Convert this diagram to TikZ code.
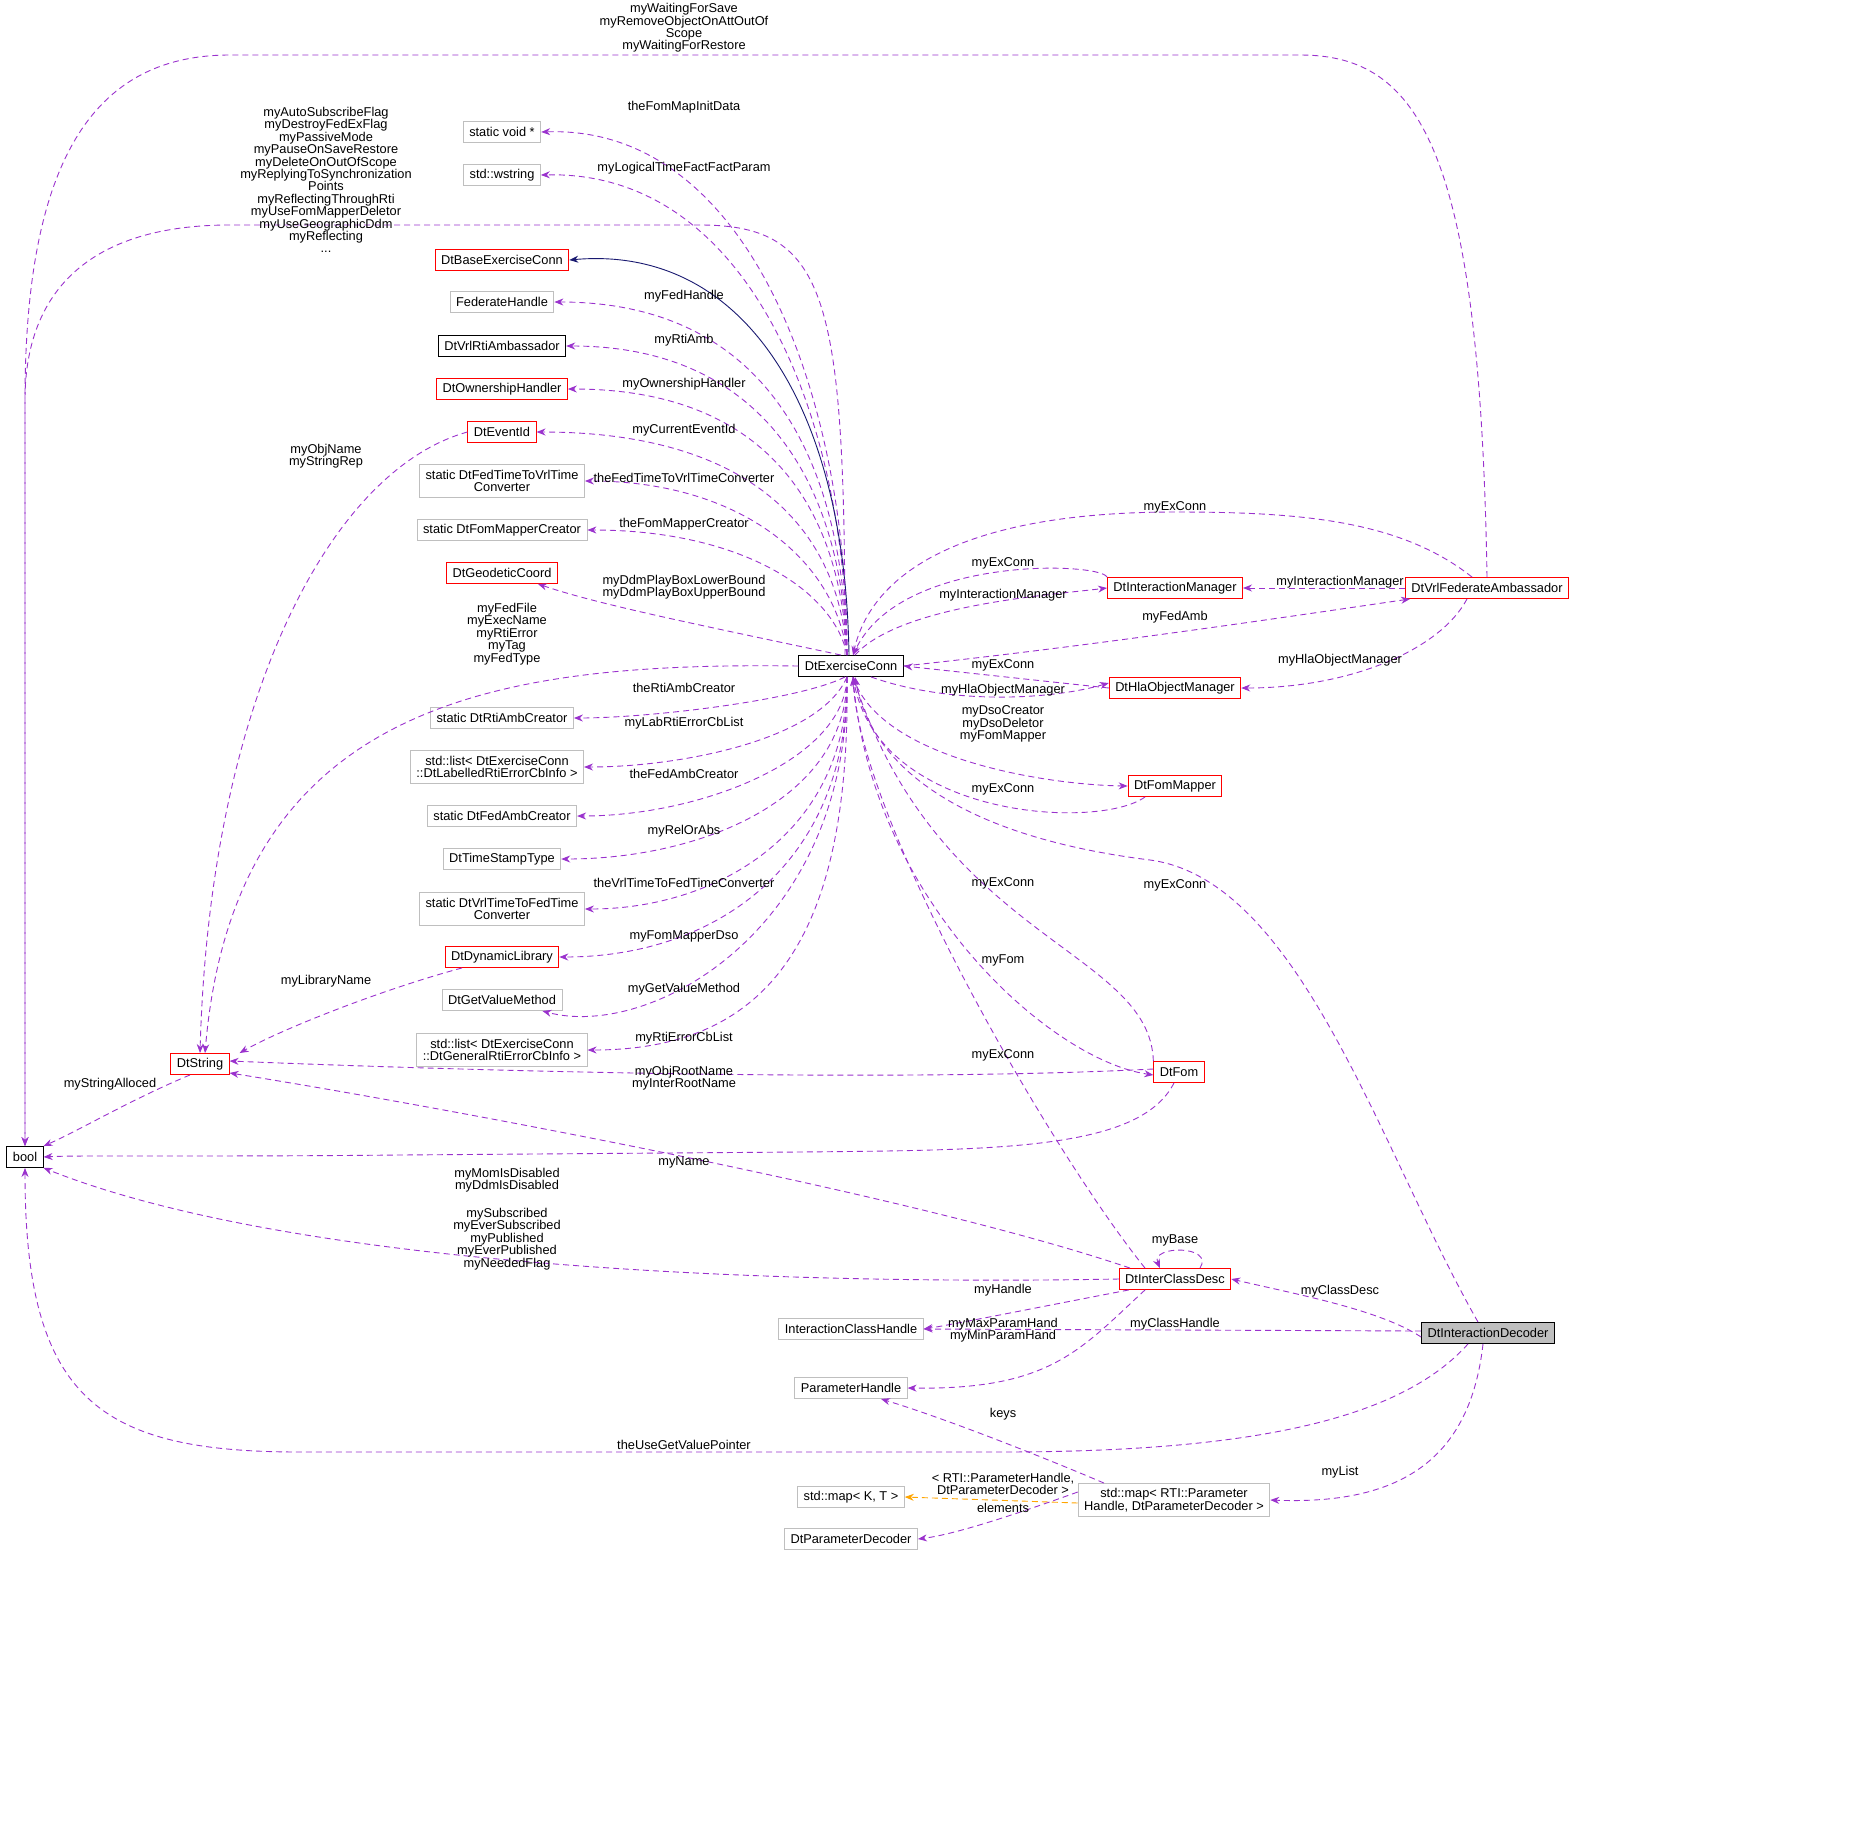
\documentclass[tikz,border=0pt]{standalone}
\usepackage{fontspec}
\setmainfont{Liberation Sans}
\usetikzlibrary{arrows.meta}
\definecolor{dep}{HTML}{9A32CD}
\definecolor{inh}{HTML}{191970}
\definecolor{tpl}{HTML}{FFA500}
\definecolor{gb}{HTML}{BFBFBF}
\begin{document}
\begin{tikzpicture}[x=1pt,y=-1pt,
  every node/.style={font=\fontsize{12.8}{12.4}\selectfont},
  box/.style={draw,rectangle,minimum height=21pt,inner xsep=6pt,inner ysep=2pt,align=center,fill=white,line width=0.9pt},
  gbox/.style={box,draw=gb},
  rbox/.style={box,draw=red},
  kbox/.style={box,draw=black},
  lab/.style={align=center,inner sep=0pt},
  d/.style={draw=dep,dashed,line width=0.9pt,-{Stealth[length=9pt,width=7pt]},dash pattern=on 6pt off 4pt},
  o/.style={d,draw=tpl},
  i/.style={draw=inh,line width=0.9pt,-{Stealth[length=9pt,width=7pt]}}]
\useasboundingbox (0,0) rectangle (1861,1847);
% nodes
\node[kbox] (bool) at (25,1157) {bool};
\node[rbox] (ds) at (200,1064) {DtString};
\node[gbox] (void) at (502,132) {static void *};
\node[gbox] (ws) at (502,175) {std::wstring};
\node[rbox] (base) at (502,260) {DtBaseExerciseConn};
\node[gbox] (fh) at (502,302) {FederateHandle};
\node[kbox] (vra) at (502,346) {DtVrlRtiAmbassador};
\node[rbox] (own) at (502,389) {DtOwnershipHandler};
\node[rbox] (eid) at (502,432) {DtEventId};
\node[gbox,minimum height=33pt] (ftv) at (502,481) {static DtFedTimeToVrlTime\\Converter};
\node[gbox] (fmc) at (502,530) {static DtFomMapperCreator};
\node[rbox] (geo) at (502,573) {DtGeodeticCoord};
\node[gbox] (rac) at (502,718) {static DtRtiAmbCreator};
\node[gbox,minimum height=33pt] (ll) at (497,767) {std::list< DtExerciseConn\\::DtLabelledRtiErrorCbInfo >};
\node[gbox] (fac) at (502,816) {static DtFedAmbCreator};
\node[gbox] (tst) at (502,859) {DtTimeStampType};
\node[gbox,minimum height=33pt] (vtf) at (502,909) {static DtVrlTimeToFedTime\\Converter};
\node[rbox] (dyn) at (502,957) {DtDynamicLibrary};
\node[gbox] (gv) at (502,1000) {DtGetValueMethod};
\node[gbox,minimum height=33pt] (gl) at (502,1050) {std::list< DtExerciseConn\\::DtGeneralRtiErrorCbInfo >};
\node[kbox] (ec) at (851,666) {DtExerciseConn};
\node[gbox] (ich) at (851,1329) {InteractionClassHandle};
\node[gbox] (ph) at (851,1388) {ParameterHandle};
\node[gbox] (mkt) at (851,1497) {std::map< K, T >};
\node[gbox] (pd) at (851,1539) {DtParameterDecoder};
\node[rbox] (im) at (1175,588) {DtInteractionManager};
\node[rbox] (hla) at (1175,688) {DtHlaObjectManager};
\node[rbox] (fm) at (1175,786) {DtFomMapper};
\node[rbox] (fom) at (1179,1072) {DtFom};
\node[rbox] (icd) at (1175,1279) {DtInterClassDesc};
\node[gbox,minimum height=33pt] (map) at (1174,1500) {std::map< RTI::Parameter\\Handle, DtParameterDecoder >};
\node[rbox] (fa) at (1487,588) {DtVrlFederateAmbassador};
\node[box,draw=black,fill=gb] (dec) at (1488,1333) {DtInteractionDecoder};
% edges from ExConn upward
\draw[d] ([xshift=-4]ec.north) .. controls (848,400) and (750,125) .. (void.east);
\draw[d] ([xshift=-4]ec.north) .. controls (846,420) and (750,170) .. (ws.east);
\draw[i] ([xshift=-2]ec.north) .. controls (845,400) and (740,245) .. (base.east);
\draw[d] ([xshift=-4]ec.north) .. controls (843,450) and (760,302) .. (fh.east);
\draw[d] ([xshift=-4]ec.north) .. controls (842,480) and (760,346) .. (vra.east);
\draw[d] ([xshift=-4]ec.north) .. controls (840,500) and (760,389) .. (own.east);
\draw[d] ([xshift=-4]ec.north) .. controls (838,520) and (740,432) .. (eid.east);
\draw[d] ([xshift=-4]ec.north) .. controls (836,560) and (740,481) .. (ftv.east);
\draw[d] ([xshift=-4]ec.north) .. controls (834,590) and (740,530) .. (fmc.east);
\draw[d] ([xshift=-10]ec.north) .. controls (700,625) and (600,605) .. ([xshift=-20]geo.south east);
% ExConn downward
\draw[d] ([xshift=-6]ec.south) .. controls (800,700) and (650,718) .. (rac.east);
\draw[d] ([xshift=-4]ec.south) .. controls (820,740) and (680,767) .. (ll.east);
\draw[d] ([xshift=-4]ec.south) .. controls (845,760) and (700,816) .. (fac.east);
\draw[d] ([xshift=-4]ec.south) .. controls (847,800) and (700,859) .. (tst.east);
\draw[d] ([xshift=-4]ec.south) .. controls (848,830) and (720,909) .. (vtf.east);
\draw[d] ([xshift=-4]ec.south) .. controls (849,860) and (720,957) .. (dyn.east);
\draw[d] ([xshift=-4]ec.south) .. controls (850,930) and (650,1040) .. ([xshift=-20]gv.south east);
\draw[d] ([xshift=-4]ec.south) .. controls (851,950) and (760,1050) .. (gl.east);
% ExConn to DtString and bool
\draw[d] (ec.west) .. controls (500,662) and (235,700) .. ([xshift=5]ds.north);
\draw[d] ([xshift=-6]ec.north) .. controls (845,300) and (830,225) .. (700,225) -- (230,225) .. controls (80,225) and (25,300) .. (25,400) -- (bool.north);
\draw[d] (eid.west) .. controls (330,470) and (210,700) .. (ds.north);
\draw[d] ([xshift=-40]dyn.south) .. controls (380,990) and (280,1030) .. ([xshift=10]ds.north east);
\draw[d] ([xshift=-10]ds.south) .. controls (130,1100) and (80,1130) .. (bool.north east);
\draw[d] (fa.north) .. controls (1480,150) and (1420,55) .. (1300,55) -- (230,55) .. controls (100,55) and (25,150) .. (25,400) -- (bool.north);
% FedAmb, managers
\draw[d] ([xshift=-15]fa.north) .. controls (1400,520) and (1300,512) .. (1175,512) .. controls (950,512) and (870,580) .. ([xshift=2]ec.north);
\draw[d] (im.north west) .. controls (1100,562) and (900,555) .. ([xshift=2]ec.north);
\draw[d] ([xshift=4]ec.north) .. controls (900,605) and (1050,595) .. (im.west);
\draw[d] (ec.east) .. controls (1100,645) and (1300,615) .. ([xshift=5]fa.south west);
\draw[d] (fa.west) -- (im.east);
\draw[d] ([xshift=-20]fa.south) .. controls (1440,650) and (1350,688) .. (hla.east);
\draw[d] (hla.west) -- (ec.east);
\draw[d] ([xshift=20]ec.south) .. controls (950,705) and (1050,700) .. ([yshift=5]hla.west);
\draw[d] ([xshift=2]ec.south) .. controls (880,760) and (1050,785) .. (fm.west);
\draw[d] ([xshift=-30]fm.south) .. controls (1100,830) and (880,820) .. ([xshift=2]ec.south);
\draw[d] ([xshift=-10]dec.north) .. controls (1380,1150) and (1300,880) .. (1150,860) .. controls (950,835) and (870,760) .. ([xshift=4]ec.south);
\draw[d] (fom.north west) .. controls (1150,950) and (940,940) .. ([xshift=2]ec.south);
\draw[d] ([xshift=2]ec.south) .. controls (870,900) and (1050,1060) .. ([yshift=-3]fom.west);
\draw[d] ([xshift=-30]icd.north) .. controls (1050,1150) and (860,820) .. ([xshift=2]ec.south);
% DtFom
\draw[d] ([yshift=3]fom.west) .. controls (900,1082) and (500,1072) .. ([yshift=3]ds.east);
\draw[d] ([xshift=-5]fom.south) .. controls (1140,1150) and (1000,1150) .. (800,1152) -- (400,1155) .. controls (200,1157) and (80,1155) .. (bool.east);
% ICD
\draw[d] ([xshift=-45]icd.north) .. controls (900,1190) and (400,1100) .. ([yshift=2]ds.south east);
\draw[d] (icd.west) .. controls (800,1285) and (300,1270) .. (bool.south east);
\draw[d] ([xshift=25]icd.north) .. controls (1215,1245) and (1150,1245) .. ([xshift=-15]icd.north);
\draw[d] ([xshift=10]icd.south west) .. controls (1050,1305) and (950,1325) .. (ich.east);
\draw[d] ([xshift=-30]icd.south) .. controls (1080,1350) and (1050,1390) .. (ph.east);
% Decoder
\draw[d] ([yshift=-4]dec.west) .. controls (1380,1310) and (1300,1295) .. (icd.east);
\draw[d] ([yshift=2]dec.west) -- (ich.east);
\draw[d] ([xshift=-20]dec.south) .. controls (1400,1420) and (1250,1452) .. (1000,1452) -- (300,1452) .. controls (100,1452) and (25,1400) .. (bool.south);
\draw[d] ([xshift=-5]dec.south) .. controls (1470,1460) and (1400,1505) .. (map.east);
\draw[d] ([xshift=-70]map.north) .. controls (1050,1460) and (950,1420) .. ([xshift=30]ph.south);
\draw[o] ([yshift=-3]map.west) -- (mkt.east);
\draw[d] ([yshift=8]map.west) .. controls (1000,1520) and (950,1535) .. (pd.east);
% labels
\node[lab] (l1) at (684,107) {theFomMapInitData};
\node[lab] (l2) at (684,168) {myLogicalTimeFactFactParam};
\node[lab] (l4) at (684,296) {myFedHandle};
\node[lab] (l5) at (684,340) {myRtiAmb};
\node[lab] (l6) at (684,384) {myOwnershipHandler};
\node[lab] (l7) at (684,430) {myCurrentEventId};
\node[lab] (l8) at (684,478) {theFedTimeToVrlTimeConverter};
\node[lab] (l9) at (684,524) {theFomMapperCreator};
\node[lab] (l10) at (684,587) {myDdmPlayBoxLowerBound\\myDdmPlayBoxUpperBound};
\node[lab] (l11) at (684,688) {theRtiAmbCreator};
\node[lab] (l12) at (684,723) {myLabRtiErrorCbList};
\node[lab] (l13) at (684,774) {theFedAmbCreator};
\node[lab] (l14) at (684,831) {myRelOrAbs};
\node[lab] (l15) at (684,883) {theVrlTimeToFedTimeConverter};
\node[lab] (l16) at (684,936) {myFomMapperDso};
\node[lab] (l17) at (684,989) {myGetValueMethod};
\node[lab] (l18) at (684,1038) {myRtiErrorCbList};
\node[lab] (l19) at (507,634) {myFedFile\\myExecName\\myRtiError\\myTag\\myFedType};
\node[lab] (l20) at (326,180) {myAutoSubscribeFlag\\myDestroyFedExFlag\\myPassiveMode\\myPauseOnSaveRestore\\myDeleteOnOutOfScope\\myReplyingToSynchronization\\Points\\myReflectingThroughRti\\myUseFomMapperDeletor\\myUseGeographicDdm\\myReflecting\\...};
\node[lab] (l21) at (326,456) {myObjName\\myStringRep};
\node[lab] (l22) at (326,981) {myLibraryName};
\node[lab] (l23) at (110,1084) {myStringAlloced};
\node[lab] (l24) at (684,28) {myWaitingForSave\\myRemoveObjectOnAttOutOf\\Scope\\myWaitingForRestore};
\node[lab] (l25) at (1175,507) {myExConn};
\node[lab] (l26) at (1003,563) {myExConn};
\node[lab] (l27) at (1003,595) {myInteractionManager};
\node[lab] (l28) at (1175,617) {myFedAmb};
\node[lab] (l29) at (1340,582) {myInteractionManager};
\node[lab] (l30) at (1340,660) {myHlaObjectManager};
\node[lab] (l31) at (1003,665) {myExConn};
\node[lab] (l32) at (1003,690) {myHlaObjectManager};
\node[lab] (l33) at (1003,724) {myDsoCreator\\myDsoDeletor\\myFomMapper};
\node[lab] (l34) at (1003,789) {myExConn};
\node[lab] (l35) at (1175,885) {myExConn};
\node[lab] (l36) at (1003,883) {myExConn};
\node[lab] (l37) at (1003,960) {myFom};
\node[lab] (l38) at (1003,1055) {myExConn};
\node[lab] (l39) at (684,1078) {myObjRootName\\myInterRootName};
\node[lab] (l40) at (507,1180) {myMomIsDisabled\\myDdmIsDisabled};
\node[lab] (l41) at (684,1162) {myName};
\node[lab] (l42) at (507,1239) {mySubscribed\\myEverSubscribed\\myPublished\\myEverPublished\\myNeededFlag};
\node[lab] (l43) at (1175,1240) {myBase};
\node[lab] (l44) at (1003,1290) {myHandle};
\node[lab] (l45) at (1003,1330) {myMaxParamHand\\myMinParamHand};
\node[lab] (l46) at (1340,1291) {myClassDesc};
\node[lab] (l47) at (1175,1324) {myClassHandle};
\node[lab] (l48) at (684,1445) {theUseGetValuePointer};
\node[lab] (l49) at (1340,1472) {myList};
\node[lab] (l50) at (1003,1414) {keys};
\node[lab] (l51) at (1003,1484) {< RTI::ParameterHandle,\\DtParameterDecoder >};
\node[lab] (l52) at (1003,1508) {elements};
\end{tikzpicture}
\end{document}
